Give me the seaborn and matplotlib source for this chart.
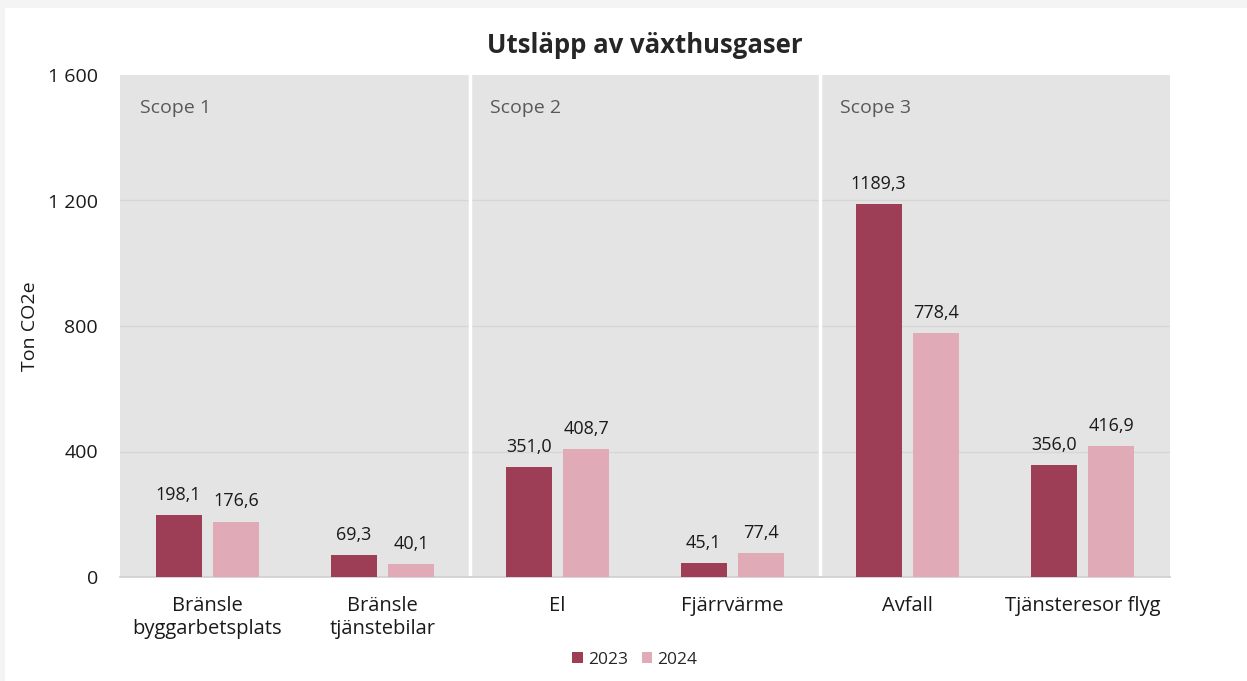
import numpy as np
import pandas as pd
import seaborn as sns
import matplotlib.pyplot as plt
from matplotlib.patches import Rectangle

kategorier = ['Bränsle\nbyggarbetsplats', 'Bränsle\ntjänstebilar', 'El',
              'Fjärrvärme', 'Avfall', 'Tjänsteresor flyg']
ar = ['2023', '2024']
v2023 = [198.1, 69.3, 351.0, 45.1, 1189.3, 356.0]
v2024 = [176.6, 40.1, 408.7, 77.4, 778.4, 416.9]
scopes = ['Scope 1', 'Scope 2', 'Scope 3']
yticks = [0, 400, 800, 1200, 1600]
ytick_labels = ['0', '400', '800', '1 200', '1 600']

df = pd.DataFrame({
    'kategori': kategorier * 2,
    'ar': [ar[0]] * len(kategorier) + [ar[1]] * len(kategorier),
    'varde': v2023 + v2024,
})

sns.set_theme(style='white')
plt.rcParams['font.family'] = ['Open Sans', 'DejaVu Sans']

fig = plt.figure(figsize=(12.47, 6.81), dpi=100, facecolor='#f4f4f4')
fig.patches.append(Rectangle((5 / 1247, 0), 1, 1 - 8 / 681, transform=fig.transFigure,
                             facecolor='white', edgecolor='none', zorder=-10))
ax = fig.add_axes([120 / 1247, 1 - 577 / 681, 1050 / 1247, 502 / 681])
ax.set_facecolor('#e4e4e4')

palett = {'2023': '#9e3d56', '2024': '#e0aab6'}
sns.barplot(data=df, x='kategori', y='varde', hue='ar', palette=palett,
            width=0.66, gap=0.2, saturation=1, linewidth=0, ax=ax, legend=True, zorder=3)

for cont in ax.containers:
    ax.bar_label(cont, labels=[f'{v:.1f}'.replace('.', ',') for v in cont.datavalues],
                 padding=8, fontsize=13, color='#1a1a1a')

ax.set_ylim(0, 1600)
ax.set_xlim(-0.5, len(kategorier) - 0.5)
ax.set_yticks(yticks)
ax.set_yticklabels(ytick_labels, fontsize=14, color='#1a1a1a')
ax.tick_params(axis='y', length=0, pad=16)
ax.tick_params(axis='x', which='major', length=0, labelsize=14.5, pad=14, labelcolor='#1a1a1a')
ax.set_xticks(np.arange(-0.5, len(kategorier), 1), minor=True)
ax.tick_params(axis='x', which='minor', length=7, color='#d0d0d0', width=1)
for g in yticks[1:-1]:
    ax.axhline(g, color='#d6d6d6', lw=1, zorder=1)
for xs in [1.5, 3.5]:
    ax.axvline(xs, color='white', lw=2.5, zorder=2)

for i, s in enumerate(scopes):
    ax.text(-0.385 + 2 * i, 1495, s, fontsize=14, color='#595959', va='center')

for side in ['top', 'right', 'left']:
    ax.spines[side].set_visible(False)
ax.spines['bottom'].set_color('#d0d0d0')

ax.set_xlabel('')
ax.set_ylabel('Ton CO2e', fontsize=14, color='#1a1a1a', labelpad=6)
ax.set_title('Utsläpp av växthusgaser', fontsize=18.5, fontweight='bold', pad=16)

handles, labels = ax.get_legend_handles_labels()
ax.legend(handles, labels, loc='center', bbox_to_anchor=(635 / 1247, 1 - 660 / 681),
          bbox_transform=fig.transFigure, ncol=2, frameon=False, fontsize=12.5,
          handlelength=0.6, handleheight=0.6, handletextpad=0.3, columnspacing=0.8)

fig.savefig('out.png', dpi=100, facecolor=fig.get_facecolor())
